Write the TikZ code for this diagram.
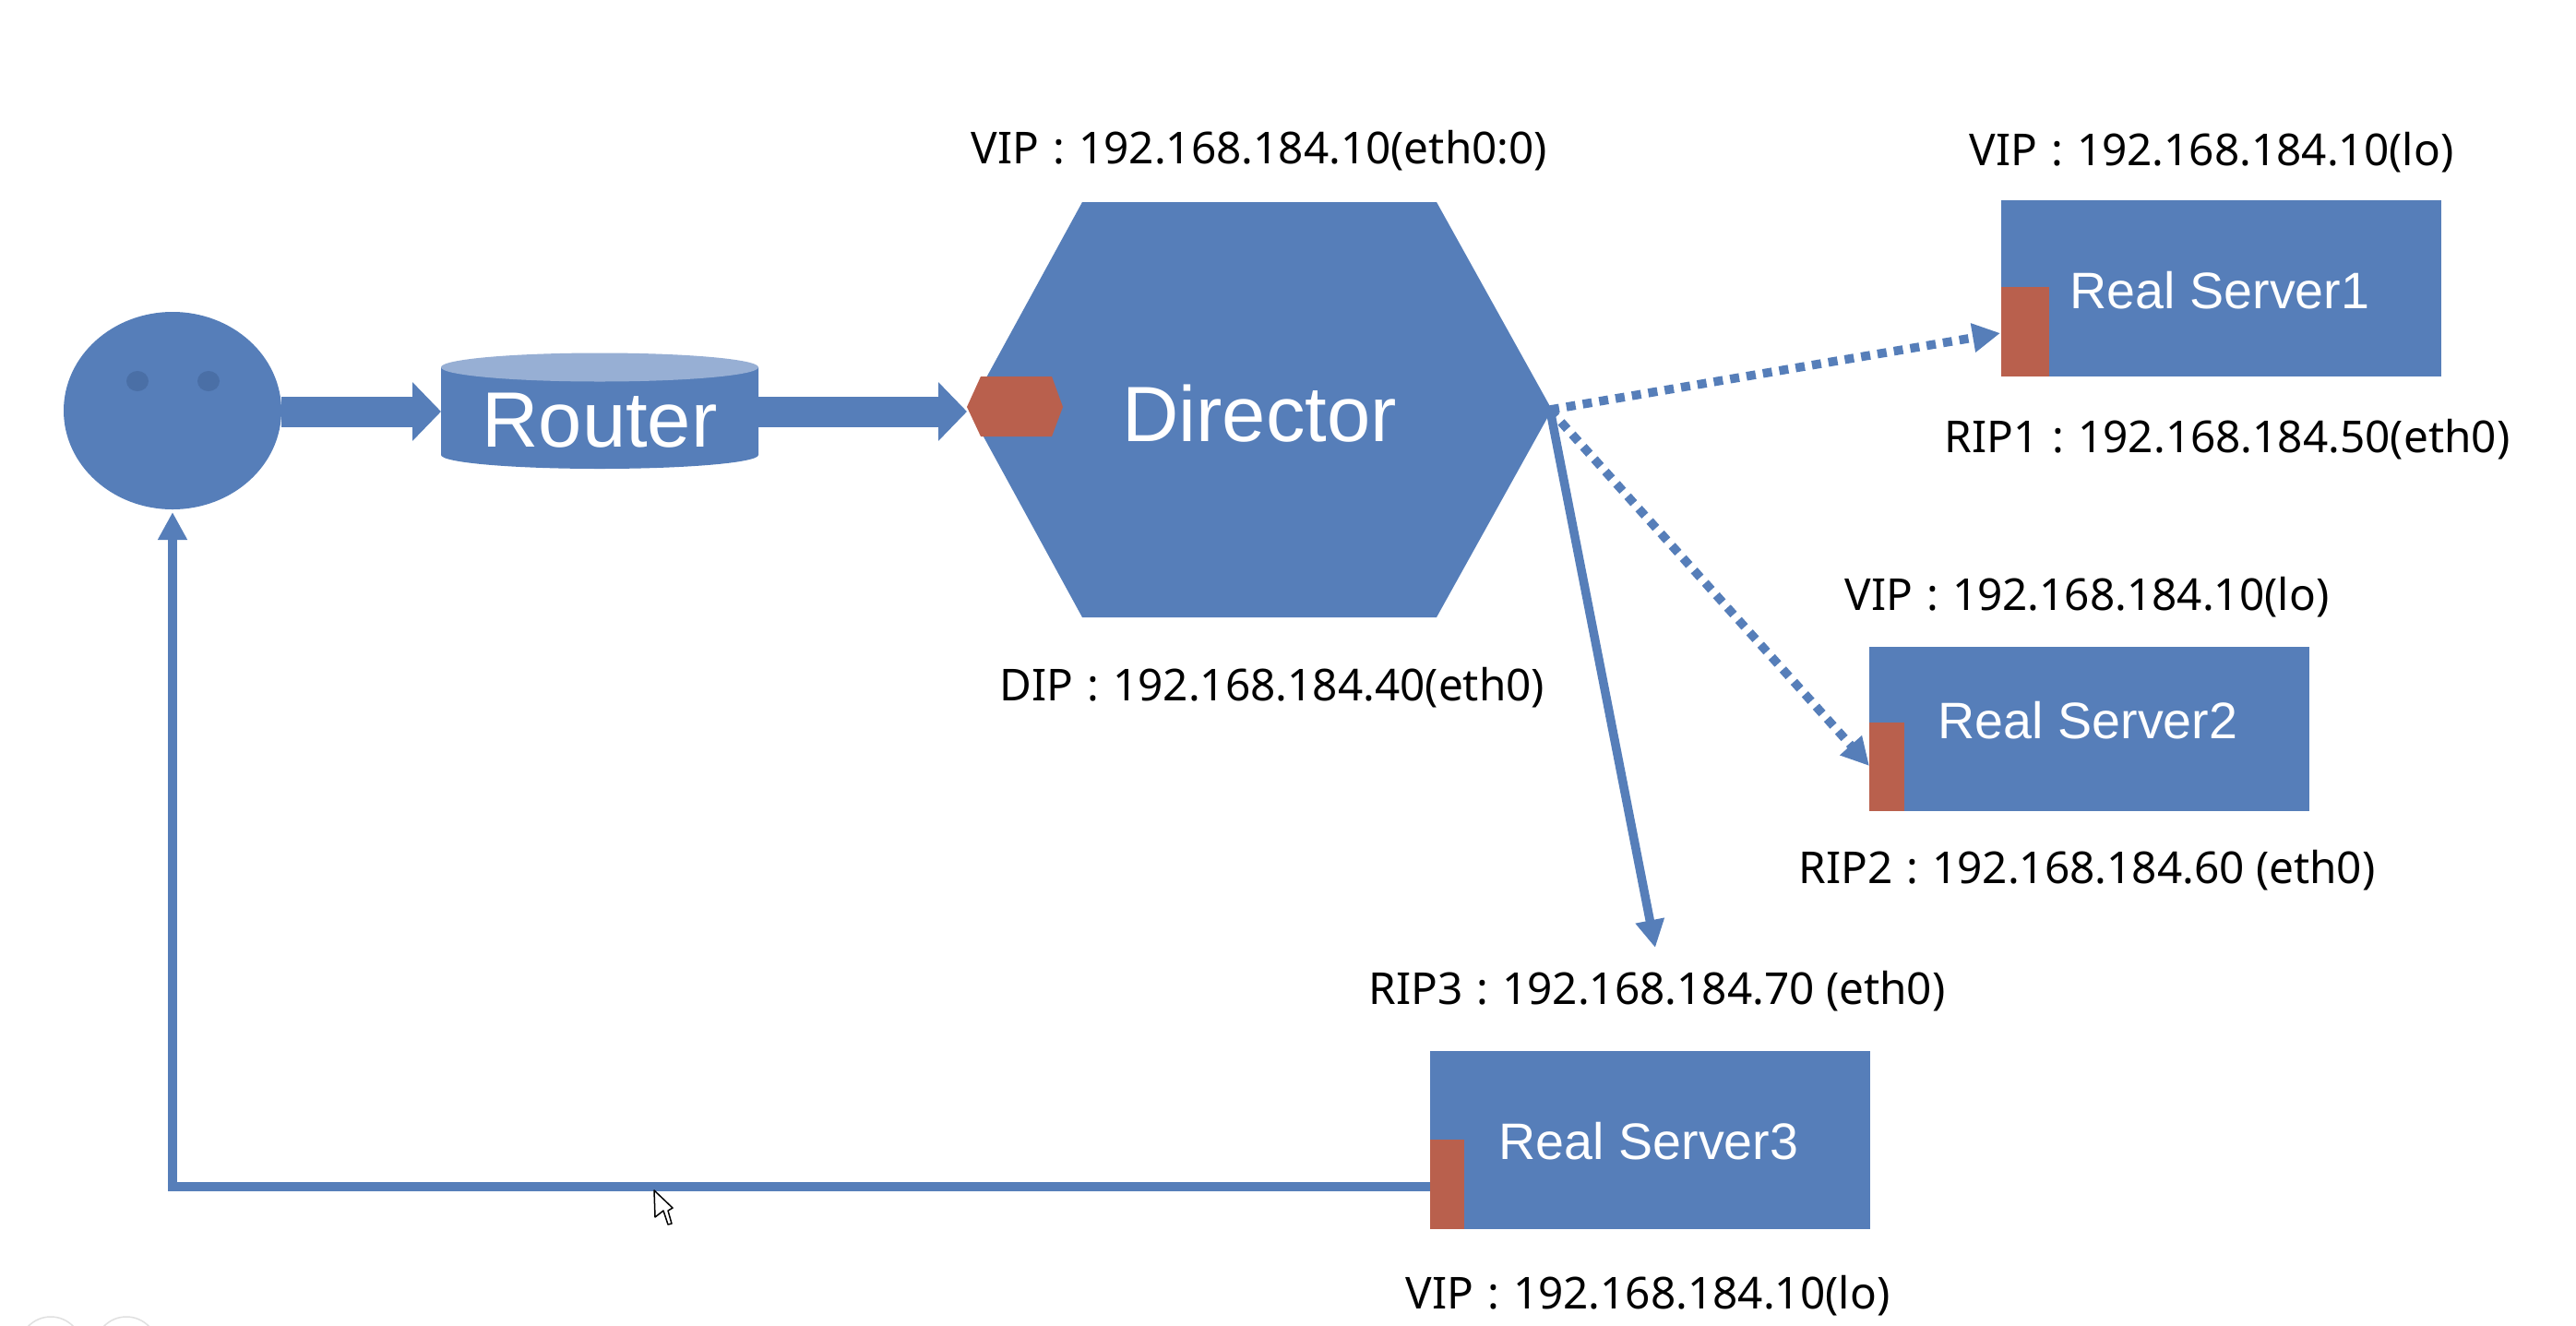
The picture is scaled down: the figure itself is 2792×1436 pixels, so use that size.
\documentclass[tikz,border=0pt]{standalone}
\usepackage{fontspec}
\setmainfont{Noto Sans}
\newfontfamily\arialf{Liberation Sans}
\usetikzlibrary{arrows.meta,shapes.geometric}
\definecolor{bl}{HTML}{567EB9}
\definecolor{bltop}{HTML}{97AFD4}
\definecolor{bleye}{HTML}{4A6FA6}
\definecolor{rd}{HTML}{B9604D}
\newcommand{\cc}{\hspace{15pt}:\hspace{15pt}}
\tikzset{
  addr/.style={text=black,inner sep=0pt,font=\fontsize{47.7}{56}\selectfont},
  lbl/.style={text=white,inner sep=0pt,font=\arialf\fontsize{55.6}{60}\selectfont},
  bigl/.style={text=white,inner sep=0pt,font=\arialf\fontsize{#1}{#1}\selectfont},
  srv/.style={fill=bl,inner sep=0pt,anchor=north west},
  port/.style={fill=rd,inner sep=0pt,anchor=north west},
  fat/.style={draw=bl,line width=33pt,-{Triangle[length=31pt,width=62pt,fill=bl]}},
  thin/.style={draw=bl,line width=9.5pt,-{Triangle[length=30pt,width=30pt,fill=bl]}},
  dots/.style={thin,dash pattern=on 10pt off 8pt},
  eye/.style={ellipse,fill=bleye,inner sep=0pt,minimum width=24pt,minimum height=22pt},
  ghost/.style={circle,draw=black!12,line width=1.5pt,inner sep=0pt,minimum size=68pt}
}
\begin{document}
\begin{tikzpicture}[x=1pt,y=-1pt]
\useasboundingbox[fill=white] (0,0) rectangle (2792,1436);
% person
\node[ellipse,fill=bl,inner sep=0pt,minimum width=236pt,minimum height=214pt] (face) at (187,445) {};
\node[eye] (eyeL) at (149,413) {};
\node[eye] (eyeR) at (226,413) {};
% router cylinder
\fill[bl] (478,398) -- (478,493) arc[start angle=180,end angle=360,x radius=172,y radius=-15] -- (822,398) -- cycle;
\fill[bltop] (650,398) ellipse[x radius=172,y radius=15.5];
\node[bigl=85] (router) at (650,456) {Router};
\coordinate (routerL) at (478,446);
\coordinate (routerR) at (822,446);
\coordinate (faceR) at (305,446);
% director
\fill[bl] (1050,444) -- (1173,219) -- (1557,219) -- (1682,444) -- (1557,669) -- (1173,669) -- cycle;
\node[bigl=85] (director) at (1365,448) {Director};
\coordinate (dirL) at (1048,446);
\coordinate (dirR) at (1680,444);
\fill[rd] (1048,441) -- (1063,408) -- (1140,408) -- (1152,441) -- (1140,473) -- (1063,473) -- cycle;
% servers
\node[srv,minimum width=477pt,minimum height=191pt] (rs1) at (2169,217) {};
\node[port,minimum width=52pt,minimum height=97pt] (p1) at (2169,311) {};
\node[lbl] (rs1t) at (2406,315) {Real Server1};
\node[srv,minimum width=477pt,minimum height=178pt] (rs2) at (2026,701) {};
\node[port,minimum width=38pt,minimum height=96pt] (p2) at (2026,783) {};
\node[lbl] (rs2t) at (2263,781) {Real Server2};
\node[srv,minimum width=477pt,minimum height=193pt] (rs3) at (1550,1139) {};
\node[port,minimum width=37pt,minimum height=97pt] (p3) at (1550,1235) {};
\node[lbl] (rs3t) at (1787,1237) {Real Server3};
% labels
\node[addr] (a1) at (1365,163) {VIP\cc 192.168.184.10(eth0:0)};
\node[addr] (a2) at (1379,745) {DIP\cc 192.168.184.40(eth0)};
\node[addr] (a3) at (2397,165) {VIP\cc 192.168.184.10(lo)};
\node[addr] (a4) at (2414,476) {RIP1\cc 192.168.184.50(eth0)};
\node[addr] (a5) at (2262,647) {VIP\cc 192.168.184.10(lo)};
\node[addr] (a6) at (2262,943) {RIP2\cc 192.168.184.60 (eth0)};
\node[addr] (a7) at (1796,1074) {RIP3\cc 192.168.184.70 (eth0)};
\node[addr] (a8) at (1786,1404) {VIP\cc 192.168.184.10(lo)};
% connectors
\draw[fat] (faceR) -- (routerL);
\draw[fat] (routerR) -- (dirL);
\coordinate (in1) at (2168,361);
\coordinate (in2) at (2026,830);
\coordinate (in3) at (1794,1027);
\coordinate (out3) at (1550,1286);
\coordinate (corner) at (187,1286);
\coordinate (faceB) at (187,555);
\draw[dots] (dirR) -- (in1);
\draw[dots] (dirR) -- (in2);
\draw[thin] (dirR) -- (in3);
\draw[thin,line join=miter] (out3) -- (corner) -- (faceB);
% cursor
\draw[black,fill=white,line width=1.5pt,line join=round] (709,1290) -- (710,1319) -- (719,1312) -- (724,1327) -- (728,1326) -- (724,1312) -- (729,1309) -- cycle;
% window corner marks
\node[ghost] (g1) at (55,1461) {};
\node[ghost] (g2) at (137,1461) {};
\end{tikzpicture}
\end{document}
